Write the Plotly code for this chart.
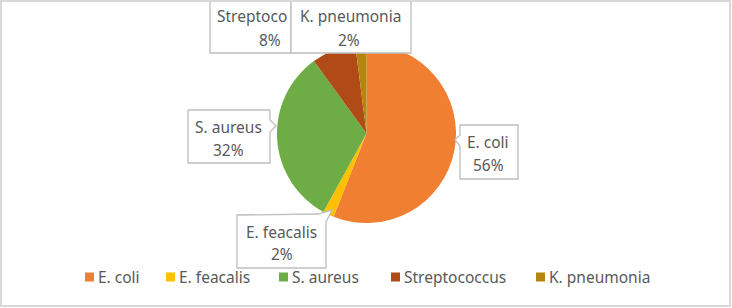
import plotly.graph_objects as go

# ---- data ----
categories = ["E. coli", "E. feacalis", "S. aureus", "Streptococcus", "K. pneumonia"]
values = [56, 2, 32, 8, 2]
colors = ["#F07F32", "#FFC000", "#6EAC45", "#B04A16", "#B4860E"]

W, H = 732, 308
FONT = "Noto Sans"
FS = 15.5
TXT = "#595959"
BORDER = "#BFBFBF"


def px(x):
    return x / W


def py(y):
    return 1 - y / H


def path(points):
    s = "M " + " L ".join(f"{px(x):.5f},{py(y):.5f}" for x, y in points) + " Z"
    return s


fig = go.Figure(go.Pie(
    labels=categories,
    values=values,
    marker=dict(colors=colors, line=dict(width=0)),
    sort=False,
    direction="clockwise",
    rotation=0,
    textinfo="none",
    showlegend=False,
    domain=dict(x=[px(277), px(456)], y=[py(223), py(44)]),
))

total = sum(values)
pct = [f"{round(v * 100 / total)}%" for v in values]

# label boxes (layout, pixel units): outline polygon, line positions
label_layout = {
    "E. coli": dict(poly=[(460, 125), (518, 125), (518, 179), (460, 179), (460, 146), (455, 140), (460, 135)],
                    l1=(488, 142), l2=(488, 165)),
    "E. feacalis": dict(poly=[(237, 215), (318, 214), (332, 210), (326, 222), (326, 268), (237, 268)],
                        l1=(281.5, 232), l2=(281.5, 254)),
    "S. aureus": dict(poly=[(188, 110), (270, 110), (270, 120), (276, 126), (270, 132), (270, 163), (188, 163)],
                      l1=(228.5, 127), l2=(228.5, 150)),
    "Streptococcus": dict(poly=[(210, -2), (291, -2), (291, 53), (210, 53)],
                          l1=(217, 16), l2=(270, 40), clip=9),
    "K. pneumonia": dict(poly=[(291, -2), (411, -2), (411, 53), (291, 53)],
                         l1=(350.5, 16), l2=(349, 40)),
}

shapes = []
annotations = []
for name, p in zip(categories, pct):
    lay = label_layout[name]
    shapes.append(dict(type="path", xref="paper", yref="paper", path=path(lay["poly"]),
                       fillcolor="white", line=dict(color=BORDER, width=1.3), layer="above"))
    x1, y1 = lay["l1"]
    if "clip" in lay:
        # the box is too narrow: the name is cut off as in the reference
        annotations.append(dict(x=px(x1), y=py(y1), xref="paper", yref="paper", text=name[:lay["clip"]],
                                showarrow=False, xanchor="left", yanchor="middle",
                                borderpad=0, borderwidth=0,
                                font=dict(family=FONT, size=FS, color=TXT)))
    else:
        annotations.append(dict(x=px(x1), y=py(y1), xref="paper", yref="paper", text=name,
                                showarrow=False, xanchor="center", yanchor="middle",
                                borderpad=0, borderwidth=0,
                                font=dict(family=FONT, size=FS, color=TXT)))
    x2, y2 = lay["l2"]
    annotations.append(dict(x=px(x2), y=py(y2), xref="paper", yref="paper", text=p,
                            showarrow=False, xanchor="center", yanchor="middle",
                            borderpad=0, borderwidth=0,
                            font=dict(family=FONT, size=FS, color=TXT)))

# manual legend (pixel layout)
legend_x = [85, 166, 279, 391, 536]
LEG_Y = 277
MS = 9
for name, c, lx in zip(categories, colors, legend_x):
    shapes.append(dict(type="rect", xref="paper", yref="paper",
                       x0=px(lx), x1=px(lx + MS), y0=py(LEG_Y - MS / 2), y1=py(LEG_Y + MS / 2),
                       fillcolor=c, line=dict(width=0), layer="above"))
    annotations.append(dict(x=px(lx + MS + 4), y=py(LEG_Y), xref="paper", yref="paper", text=name,
                            showarrow=False, xanchor="left", yanchor="middle",
                            borderpad=0, borderwidth=0,
                            font=dict(family=FONT, size=FS, color=TXT)))

# chart frame
shapes.append(dict(type="rect", xref="paper", yref="paper",
                   x0=px(1), x1=px(730), y0=py(306), y1=py(1),
                   line=dict(color="#D9D9D9", width=2), layer="above"))

fig.update_layout(
    width=W, height=H,
    margin=dict(l=0, r=0, t=0, b=0),
    paper_bgcolor="white",
    plot_bgcolor="white",
    showlegend=False,
    shapes=shapes,
    annotations=annotations,
    font=dict(family=FONT, size=FS, color=TXT),
)

fig.write_html("out.html")
